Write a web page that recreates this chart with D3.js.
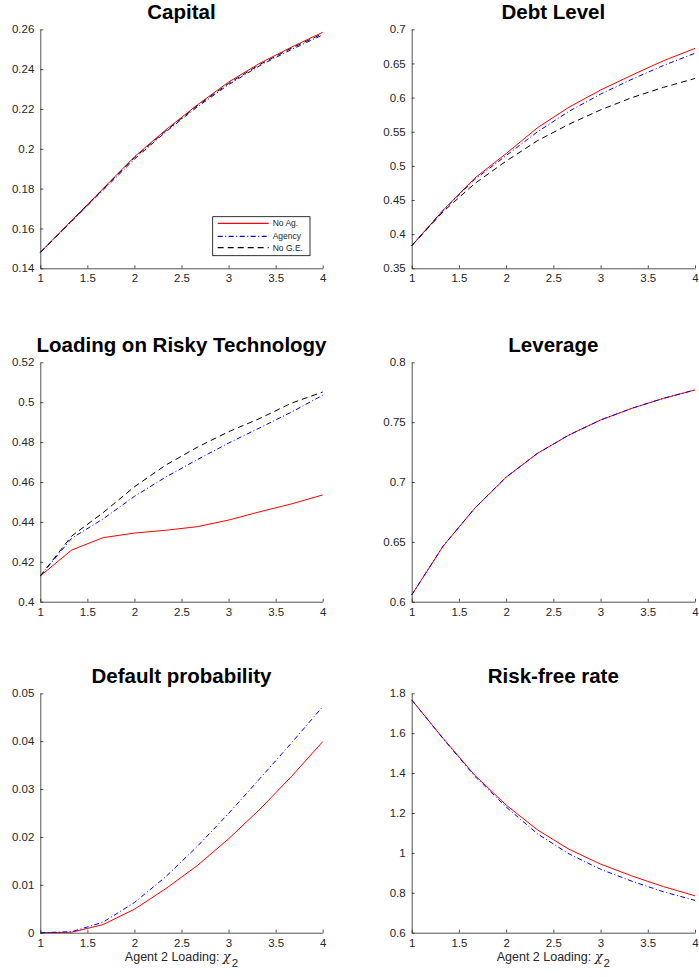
<!DOCTYPE html>
<html>
<head>
<meta charset="utf-8">
<script src="https://cdn.jsdelivr.net/npm/d3@7"></script>
<style>
  html, body { margin: 0; padding: 0; background: #fff; }
  svg { display: block; }
  text { font-family: "Liberation Sans", Arial, Helvetica, sans-serif; }
</style>
</head>
<body>
<svg id="chart" width="699" height="977"></svg>
<script>
// ---- data ----
const xValues = [1, 1.3333, 1.6667, 2, 2.3333, 2.6667, 3, 3.3333, 3.6667, 4];
const xTicks = [1, 1.5, 2, 2.5, 3, 3.5, 4];

const capitalNoAg   = [0.148, 0.1640, 0.1800, 0.1960, 0.2095, 0.2220, 0.2335, 0.2430, 0.2510, 0.2585];
const capitalAgency = [0.148, 0.1635, 0.1792, 0.1948, 0.2085, 0.2210, 0.2322, 0.2418, 0.2498, 0.2572];
const capitalNoGE   = [0.148, 0.1638, 0.1797, 0.1955, 0.2090, 0.2216, 0.2328, 0.2424, 0.2505, 0.2578];
const capitalTicks  = [0.14, 0.16, 0.18, 0.2, 0.22, 0.24, 0.26];

const debtNoAg   = [0.383, 0.435, 0.482, 0.518, 0.556, 0.586, 0.611, 0.633, 0.654, 0.672];
const debtAgency = [0.383, 0.435, 0.480, 0.515, 0.550, 0.580, 0.605, 0.627, 0.647, 0.665];
const debtNoGE   = [0.383, 0.433, 0.474, 0.507, 0.537, 0.561, 0.582, 0.600, 0.615, 0.628];
const debtTicks  = [0.35, 0.4, 0.45, 0.5, 0.55, 0.6, 0.65, 0.7];

const riskyNoAg   = [0.4129, 0.4259, 0.4321, 0.4344, 0.4358, 0.4376, 0.4409, 0.4451, 0.4490, 0.4535];
const riskyAgency = [0.4129, 0.4318, 0.4415, 0.4528, 0.4625, 0.4712, 0.4795, 0.4872, 0.4950, 0.5035];
const riskyNoGE   = [0.4129, 0.4329, 0.4446, 0.4576, 0.4685, 0.4774, 0.4852, 0.4919, 0.4995, 0.5051];
const riskyTicks  = [0.4, 0.42, 0.44, 0.46, 0.48, 0.5, 0.52];

const leverageNoAg   = [0.6056, 0.6465, 0.6780, 0.7040, 0.7240, 0.7393, 0.7518, 0.7616, 0.7699, 0.7769];
const leverageAgency = [0.6056, 0.6465, 0.6780, 0.7040, 0.7240, 0.7393, 0.7518, 0.7616, 0.7699, 0.7769];
const leverageTicks  = [0.6, 0.65, 0.7, 0.75, 0.8];

const defaultNoAg   = [0, 0.0001, 0.0017, 0.0049, 0.0092, 0.0140, 0.0196, 0.0258, 0.0326, 0.0399];
const defaultAgency = [0, 0.0002, 0.0022, 0.0063, 0.0117, 0.0180, 0.0249, 0.0322, 0.0396, 0.0472];
const defaultTicks  = [0, 0.01, 0.02, 0.03, 0.04, 0.05];

const rfNoAg   = [1.767, 1.574, 1.390, 1.240, 1.115, 1.018, 0.944, 0.884, 0.831, 0.785];
const rfAgency = [1.767, 1.572, 1.385, 1.230, 1.095, 0.995, 0.918, 0.858, 0.805, 0.762];
const rfTicks  = [0.6, 0.8, 1, 1.2, 1.4, 1.6, 1.8];

const seriesNames = ["No Ag.", "Agency", "No G.E."];
const xLabel = "Agent 2 Loading: ";

// ---- styles ----
const styles = {
  "No Ag.":  { color: "#ff0000", dash: null },
  "Agency":  { color: "#0000ff", dash: "5,2.5,1,2.5" },
  "No G.E.": { color: "#000000", dash: "6,4" }
};
const axisColor = "#262626";

const colX = [[40.3, 322.7], [411.7, 695]];
const rowY = [[29.3, 268.3], [362.3, 601.7], [693.3, 932.7]];

const panels = [
  { title: "Capital", col: 0, row: 0, ticks: capitalTicks,
    series: [["No Ag.", capitalNoAg], ["Agency", capitalAgency], ["No G.E.", capitalNoGE]], legend: true },
  { title: "Debt Level", col: 1, row: 0, ticks: debtTicks,
    series: [["No Ag.", debtNoAg], ["Agency", debtAgency], ["No G.E.", debtNoGE]] },
  { title: "Loading on Risky Technology", col: 0, row: 1, ticks: riskyTicks,
    series: [["No Ag.", riskyNoAg], ["Agency", riskyAgency], ["No G.E.", riskyNoGE]] },
  { title: "Leverage", col: 1, row: 1, ticks: leverageTicks,
    series: [["No Ag.", leverageNoAg], ["Agency", leverageAgency]] },
  { title: "Default probability", col: 0, row: 2, ticks: defaultTicks,
    series: [["No Ag.", defaultNoAg], ["Agency", defaultAgency]], xlabel: true },
  { title: "Risk-free rate", col: 1, row: 2, ticks: rfTicks,
    series: [["No Ag.", rfNoAg], ["Agency", rfAgency]], xlabel: true }
];

const svg = d3.select("#chart");
const fmt = d => String(+d.toFixed(4));

panels.forEach(p => {
  const [x0, x1] = colX[p.col];
  const [y0, y1] = rowY[p.row];
  const x = d3.scaleLinear().domain([1, 4]).range([x0, x1]);
  const y = d3.scaleLinear().domain([p.ticks[0], p.ticks[p.ticks.length - 1]]).range([y1, y0]);
  const g = svg.append("g");

  // lines
  const line = d3.line().x((d, i) => x(xValues[i])).y(d => y(d));
  p.series.forEach(([name, vals]) => {
    const s = styles[name];
    const path = g.append("path").datum(vals)
      .attr("d", line)
      .style("fill", "none")
      .style("stroke", s.color)
      .style("stroke-width", 1);
    if (s.dash) path.style("stroke-dasharray", s.dash);
  });

  // axes
  const yAxis = d3.axisLeft(y).tickValues(p.ticks).tickFormat(fmt).tickSizeInner(-3).tickSizeOuter(0).tickPadding(6);
  const ya = g.append("g").attr("transform", `translate(${x0},0)`).call(yAxis);
  const xAxis = d3.axisBottom(x).tickValues(xTicks).tickFormat(fmt).tickSizeInner(-3).tickSizeOuter(0).tickPadding(6);
  const xa = g.append("g").attr("transform", `translate(0,${y1})`).call(xAxis);
  [ya, xa].forEach(a => {
    a.select(".domain").attr("stroke", axisColor).attr("stroke-width", 0.8);
    a.selectAll(".tick line").attr("stroke", axisColor).attr("stroke-width", 0.8);
    a.selectAll(".tick text").attr("fill", axisColor)
      .style("font-family", '"Liberation Sans", Arial, sans-serif').style("font-size", "11.5px");
  });

  // title
  g.append("text")
    .attr("x", (x0 + x1) / 2).attr("y", y0 - 10)
    .attr("text-anchor", "middle")
    .style("font-size", "20.5px").style("font-weight", "bold")
    .attr("fill", "#000")
    .text(p.title);

  if (p.xlabel) {
    const t = g.append("text")
      .attr("x", (x0 + x1) / 2).attr("y", y1 + 28.5)
      .attr("text-anchor", "middle")
      .attr("fill", axisColor)
      .style("font-size", "12.5px");
    t.append("tspan").text(xLabel);
    t.append("tspan").text("χ").style("font-family", '"DejaVu Serif", serif').style("font-style", "italic").style("font-size", "13px");
    t.append("tspan").text("2").attr("dx", 1).attr("dy", 6).style("font-size", "11.5px");
  }

  if (p.legend) {
    const lx = 212.7, ly = 216.7, lw = 97.3, lh = 39;
    const lg = g.append("g");
    lg.append("rect").attr("x", lx).attr("y", ly).attr("width", lw).attr("height", lh)
      .style("fill", "#fff").style("stroke", "#000").style("stroke-width", 0.8);
    const rowsY = [223.3, 236.3, 247.7];
    seriesNames.forEach((name, i) => {
      const s = styles[name];
      const ln = lg.append("path")
        .attr("d", d3.line()([[lx + 5, rowsY[i]], [lx + 56, rowsY[i]]]))
        .style("fill", "none")
        .style("stroke", s.color).style("stroke-width", 1.2);
      if (s.dash) ln.style("stroke-dasharray", s.dash);
      lg.append("text").attr("x", lx + 60).attr("y", rowsY[i] + 3)
        .style("font-size", "8.5px").attr("fill", axisColor).text(name);
    });
  }
});
</script>
</body>
</html>
